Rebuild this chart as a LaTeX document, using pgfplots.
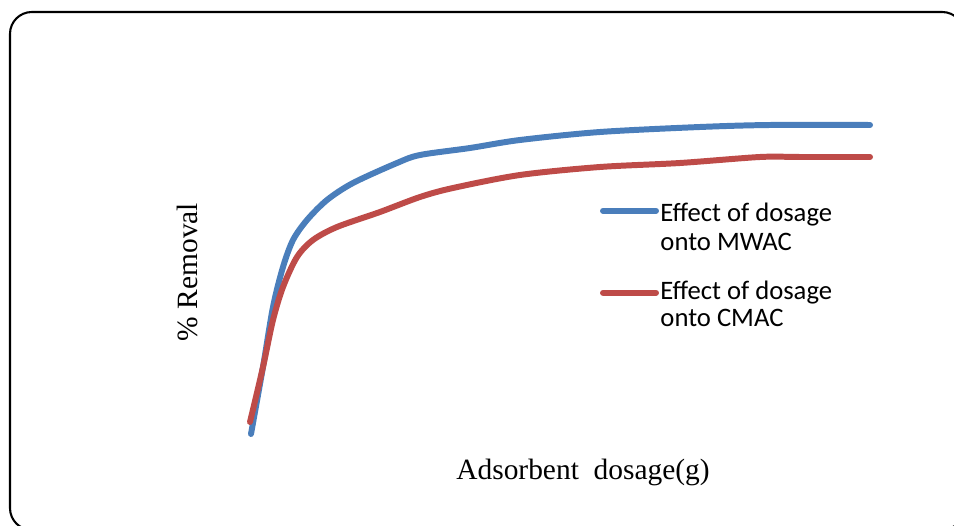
\documentclass[border=0pt]{standalone}
\usepackage{fontspec}
\setmainfont{Liberation Serif}
\newfontfamily\calibri{Carlito}
\usepackage{pgfplots}
\pgfplotsset{compat=1.18}
\definecolor{mwac}{HTML}{4A7EBB}
\definecolor{cmac}{HTML}{BE4B48}
\begin{document}
\begin{tikzpicture}
\begin{axis}[
  at={(0,0)}, anchor=south west,
  width=415pt, height=228.8pt, scale only axis,
  xmin=0, xmax=954, ymin=0, ymax=526,
  hide axis, clip=false,
]
% Effect of dosage onto MWAC
\addplot[mwac, line width=2.6pt, smooth, tension=0.5, line cap=round] coordinates {
 (251,92) (263,159) (273,219) (283,259) (293,286) (307,306) (327,326) (353,343)
 (397,363) (420,371) (470,378) (520,386) (600,394) (700,399) (770,401) (870,401)};
% Effect of dosage onto CMAC
\addplot[cmac, line width=2.6pt, smooth, tension=0.5, line cap=round] coordinates {
 (250,104) (263,159) (273,206) (283,239) (297,269) (313,286) (337,299) (380,314)
 (420,329) (453,338) (520,351) (600,359) (680,363) (760,369) (800,369) (870,369)};
% frame
\draw[line width=0.9pt, rounded corners=9.5pt] (axis cs:10,-4) rectangle (axis cs:964,514);
% legend
\draw[mwac, line width=2.6pt, line cap=round] (axis cs:603,315.3) -- (axis cs:656,315.3);
\draw[cmac, line width=2.6pt, line cap=round] (axis cs:603,233.3) -- (axis cs:656,233.3);
\node[anchor=base west, inner sep=0pt, font=\calibri\fontsize{11.6}{13}\selectfont] at (axis cs:660,304.3) {Effect of dosage};
\node[anchor=base west, inner sep=0pt, font=\calibri\fontsize{11.6}{13}\selectfont] at (axis cs:660,275) {onto MWAC};
\node[anchor=base west, inner sep=0pt, font=\calibri\fontsize{11.6}{13}\selectfont] at (axis cs:660,226.7) {Effect of dosage};
\node[anchor=base west, inner sep=0pt, font=\calibri\fontsize{11.6}{13}\selectfont] at (axis cs:660,199) {onto CMAC};
% axis titles
\node[anchor=base, inner sep=0pt, font=\fontsize{12.8}{15}\selectfont] at (axis cs:583,46) {Adsorbent~ dosage(g)};
\node[rotate=90, inner sep=0pt, font=\fontsize{12.8}{15}\selectfont] at (axis cs:187,254) {\% Removal};
\end{axis}
\pgfresetboundingbox
\path (0,0) rectangle (415pt,228.8pt);
\end{tikzpicture}
\end{document}
